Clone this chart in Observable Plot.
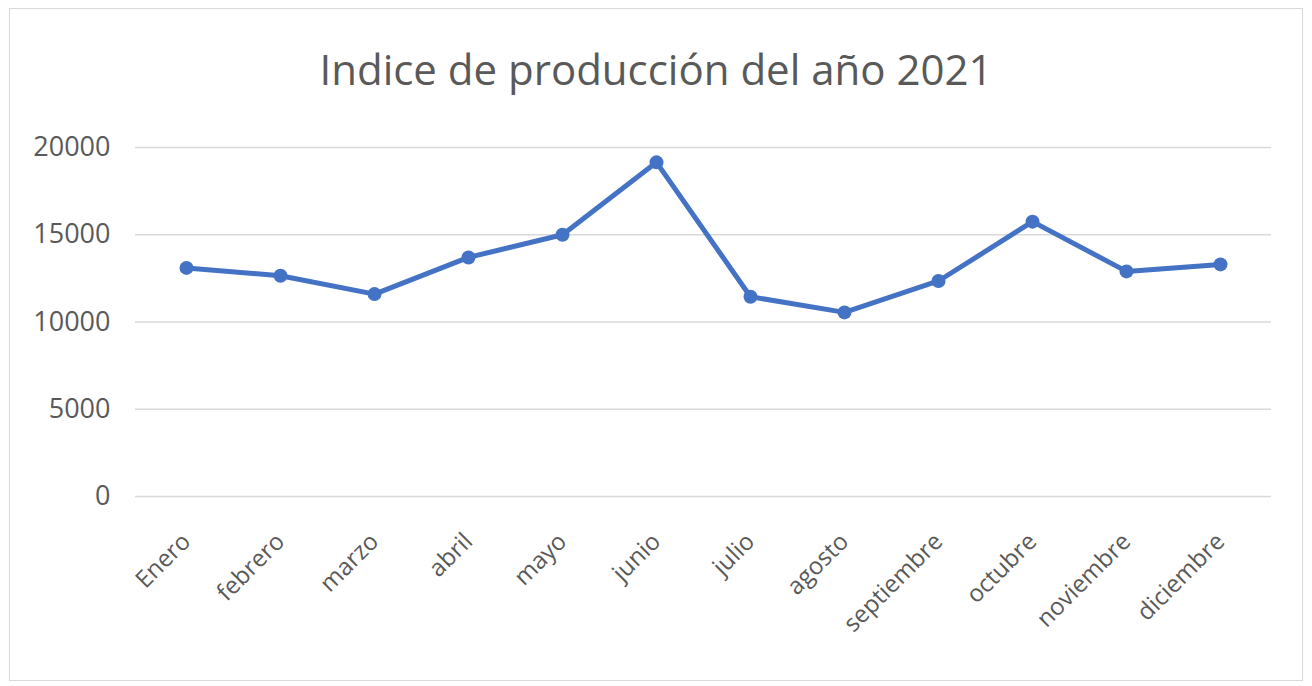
<!DOCTYPE html>
<html><head><meta charset="utf-8">
<script src="https://cdn.jsdelivr.net/npm/d3@7"></script>
<script src="https://cdn.jsdelivr.net/npm/@observablehq/plot@0.6"></script>
<style>
body{margin:0;background:#fff;}
#chart{position:relative;width:1312px;height:686px;background:#fff;}
#frame{position:absolute;left:9px;top:8px;width:1294px;height:673px;border:1px solid #d9d9d9;box-sizing:border-box;}
#title{position:absolute;left:0;top:44px;width:1312px;text-align:center;font-family:"Open Sans",sans-serif;font-size:42px;color:#595959;line-height:1.2;}
#plot{position:absolute;left:0;top:110px;}
</style>
</head><body>
<div id="chart"><div id="frame"></div><div id="title">Indice de producción del año 2021</div><div id="plot"></div></div>
<script>
const months = ["Enero","febrero","marzo","abril","mayo","junio","julio","agosto","septiembre","octubre","noviembre","diciembre"];
const values = [13100,12650,11600,13700,15000,19150,11450,10550,12350,15750,12900,13300];
const yTicks = [0,5000,10000,15000,20000];
const data = months.map((m,i)=>({month:m, value:values[i]}));
const chart = Plot.plot({
  width:1312, height:576, marginLeft:135, marginRight:41, marginTop:37, marginBottom:190,
  style:{fontFamily:"Open Sans, sans-serif", fontSize:"24px", color:"#595959", background:"transparent", overflow:"visible"},
  x:{type:"point", domain:months, padding:0.5, label:null},
  y:{domain:[0,20000], label:null},
  marks:[
    Plot.gridY(yTicks,{stroke:"#d9d9d9", strokeOpacity:1, strokeWidth:1.5}),
    Plot.axisY(yTicks,{tickSize:0, tickPadding:25, label:null, tickFormat:d=>String(d), fontSize:27}),
    Plot.axisX({tickSize:0, tickRotate:-45, tickPadding:41, label:null, fontSize:24}),
    Plot.line(data,{x:"month",y:"value",stroke:"#4472C4",strokeWidth:5}),
    Plot.dot(data,{x:"month",y:"value",r:7,fill:"#4472C4"})
  ]
});
document.getElementById("plot").appendChild(chart);
</script>
</body></html>
